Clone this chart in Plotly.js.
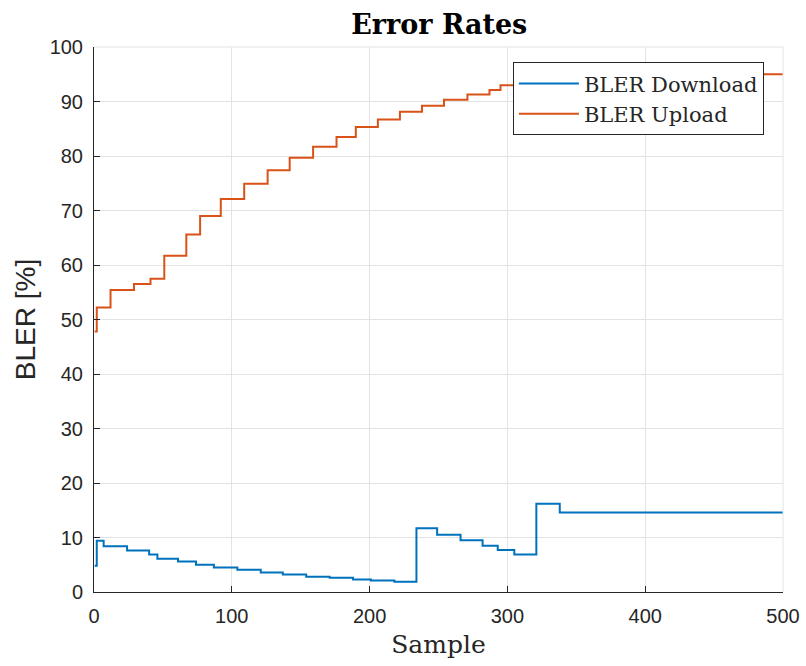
<!DOCTYPE html>
<html>
<head>
<meta charset="utf-8">
<script src="https://cdn.plot.ly/plotly-3.0.1.min.js"></script>
<style>html,body{margin:0;padding:0;background:#fff;}#chart{width:806px;height:666px;}</style>
</head>
<body>
<div id="chart"></div>
<script>
// BLER Download: sample at which each level starts, and level (%)
const downloadX = [0.5, 2, 7, 24, 40, 46, 61, 74, 87, 104, 121, 137, 154, 171, 188, 201, 218, 234, 249, 266, 282, 293, 305, 321, 338, 500];
const downloadY = [4.8, 9.4, 8.4, 7.6, 6.9, 6.1, 5.6, 5.0, 4.5, 4.1, 3.6, 3.2, 2.8, 2.6, 2.3, 2.1, 1.9, 11.7, 10.5, 9.5, 8.5, 7.7, 6.9, 16.2, 14.6, 14.6];
// BLER Upload
const uploadX = [0.5, 2, 12, 29, 41, 51, 67, 77, 92, 109, 126, 142, 159, 176, 190, 206, 222, 238, 254, 271, 287, 295, 312, 325, 338, 500];
const uploadY = [47.8, 52.2, 55.4, 56.5, 57.5, 61.7, 65.6, 69.0, 72.1, 74.9, 77.4, 79.7, 81.7, 83.5, 85.3, 86.7, 88.1, 89.2, 90.3, 91.3, 92.1, 93.0, 93.8, 94.4, 95.0, 95.0];
const seriesNames = ["BLER Download", "BLER Upload"];

const axisCol = "#262626";
const gridCol = "#e3e3e3";
const sans = "Liberation Sans, Arial, sans-serif";
const serif = "DejaVu Serif, Liberation Serif, serif";

const traces = [
  {x: downloadX, y: downloadY, name: seriesNames[0], mode: "lines", line: {color: "#0072BD", width: 2, shape: "hv"}},
  {x: uploadX, y: uploadY, name: seriesNames[1], mode: "lines", line: {color: "#D95319", width: 2, shape: "hv"}}
];

const layout = {
  width: 806, height: 666,
  margin: {l: 94, r: 23, t: 47, b: 74},
  paper_bgcolor: "#fff", plot_bgcolor: "#fff",
  title: {text: "<b>Error Rates</b>", font: {family: serif, size: 27, color: "#000"}, x: 0.545, xanchor: "center", y: 0.978, yanchor: "top"},
  xaxis: {
    range: [0, 500], tickvals: [0, 100, 200, 300, 400, 500],
    showgrid: true, gridcolor: gridCol, gridwidth: 1, zeroline: false,
    showline: true, linecolor: axisCol, linewidth: 1, mirror: false,
    ticks: "inside", ticklen: 6, tickcolor: axisCol, ticklabelstandoff: 6,
    tickfont: {family: sans, size: 20, color: axisCol},
    title: {text: "Sample", font: {family: serif, size: 25, color: axisCol}, standoff: 9}
  },
  yaxis: {
    range: [0, 100], tickvals: [0, 10, 20, 30, 40, 50, 60, 70, 80, 90, 100],
    showgrid: true, gridcolor: gridCol, gridwidth: 1, zeroline: false,
    showline: true, linecolor: axisCol, linewidth: 1, mirror: false,
    ticks: "inside", ticklen: 6, tickcolor: axisCol, ticklabelstandoff: 6,
    tickfont: {family: sans, size: 20, color: axisCol},
    title: {text: "BLER [%]", font: {family: sans, size: 28, color: axisCol}, standoff: 5}
  },
  shapes: [
    {type: "line", xref: "paper", yref: "paper", x0: 0, x1: 1, y0: 1, y1: 1, line: {color: gridCol, width: 1}},
    {type: "line", xref: "paper", yref: "paper", x0: 1, x1: 1, y0: 0, y1: 1, line: {color: gridCol, width: 1}}
  ],
  showlegend: true,
  legend: {
    x: 0.608, y: 0.972, xanchor: "left", yanchor: "top",
    bgcolor: "#fff", bordercolor: axisCol, borderwidth: 1,
    font: {family: serif, size: 21, color: axisCol},
    itemwidth: 60, tracegroupgap: 0
  }
};

Plotly.newPlot("chart", traces, layout, {staticPlot: true, displayModeBar: false});
</script>
</body>
</html>
